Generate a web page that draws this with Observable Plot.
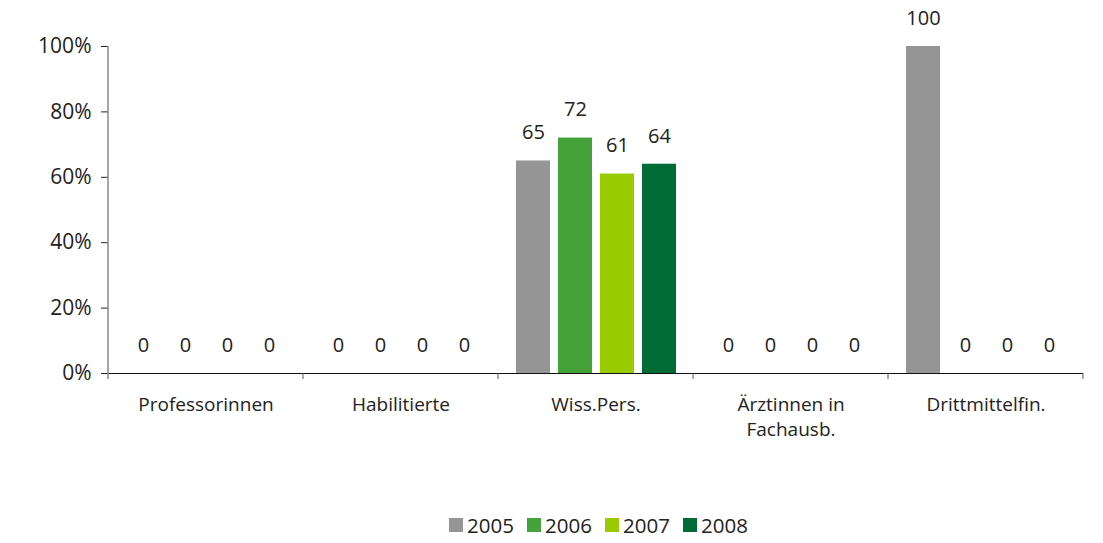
<!DOCTYPE html>
<html>
<head>
<meta charset="utf-8">
<script src="https://cdn.jsdelivr.net/npm/d3@7"></script>
<script src="https://cdn.jsdelivr.net/npm/@observablehq/plot@0.6"></script>
<style>
  body { margin: 0; background: #fff; font-family: "Open Sans", sans-serif; }
  #legend { display: flex; align-items: center; padding-left: 449px; margin-top: 6px; font-size: 20.5px; color: #222; }
  #legend .item { display: flex; align-items: center; width: 78px; }
  #legend .sw { width: 14px; height: 14px; margin-right: 4px; }
</style>
</head>
<body>
<div id="chart"></div>
<div id="legend"></div>
<script>
const categories = ["Professorinnen", "Habilitierte", "Wiss.Pers.", "Ärztinnen in Fachausb.", "Drittmittelfin."];
const categoryLabels = ["Professorinnen", "Habilitierte", "Wiss.Pers.", "Ärztinnen in\nFachausb.", "Drittmittelfin."];
const years = ["2005", "2006", "2007", "2008"];
const colors = ["#959595", "#43a33a", "#9aca00", "#006b36"];
const v2005 = [0, 0, 65, 0, 100];
const v2006 = [0, 0, 72, 0, 0];
const v2007 = [0, 0, 61, 0, 0];
const v2008 = [0, 0, 64, 0, 0];
const yTicks = [0, 20, 40, 60, 80, 100];

const series = [v2005, v2006, v2007, v2008];
const data = [];
categories.forEach((c, i) => years.forEach((y, j) => data.push({cat: c, year: y, value: series[j][i]})));
const labelOf = new Map(categories.map((c, i) => [c, categoryLabels[i]]));

const W = 1103, H = 505;
const chart = Plot.plot({
  width: W, height: H,
  marginLeft: 107, marginRight: 19, marginTop: 46, marginBottom: H - 373,
  style: {fontFamily: "Open Sans, sans-serif", color: "#222", background: "#fff"},
  fx: {domain: categories, padding: 0, label: null},
  x: {domain: years, paddingInner: 0.2, paddingOuter: 0.388, axis: null},
  y: {domain: [0, 100], axis: null},
  color: {domain: years, range: colors},
  marks: [
    Plot.barY(data, {fx: "cat", x: "year", y: "value", fill: "year"}),
    Plot.ruleY([0], {stroke: "#111", strokeWidth: 1.2}),
    Plot.text(data, {fx: "cat", x: "year", y: "value", text: d => String(d.value), dy: -28, fontSize: 20, fill: "#222"}),
    Plot.axisY({ticks: yTicks, tickFormat: d => d + "%", tickSize: 7, tickPadding: 10, fontSize: 21, stroke: "#222", label: null}),
    Plot.axisFx({anchor: "bottom", tickSize: 0, tickPadding: 20, fontSize: 19, lineHeight: 1.32, tickFormat: d => labelOf.get(d), label: null})
  ]
});
document.getElementById("chart").appendChild(chart);

// boundary ticks between categories and gray y-axis line, positioned with Plot's scales
const fx = chart.scale("fx"), ys = chart.scale("y");
const svg = d3.select(chart);
const bw = fx.bandwidth;
const edges = [fx.apply(categories[0])].concat(categories.map(c => fx.apply(c) + bw));
const y0 = ys.apply(0), y100 = ys.apply(100);
const g = svg.append("g");
g.append("line").attr("x1", edges[0]).attr("x2", edges[0]).attr("y1", y100).attr("y2", y0 + 6)
  .attr("stroke", "#8a8a8a").attr("stroke-width", 1.5);
edges.slice(1).forEach(x => {
  g.append("line").attr("x1", x).attr("x2", x).attr("y1", y0).attr("y2", y0 + 6)
    .attr("stroke", "#555").attr("stroke-width", 1);
});

const legend = document.getElementById("legend");
years.forEach((y, i) => {
  const it = document.createElement("div"); it.className = "item";
  const sw = document.createElement("div"); sw.className = "sw"; sw.style.background = colors[i];
  const t = document.createElement("span"); t.textContent = y;
  it.appendChild(sw); it.appendChild(t); legend.appendChild(it);
});
</script>
</body>
</html>
